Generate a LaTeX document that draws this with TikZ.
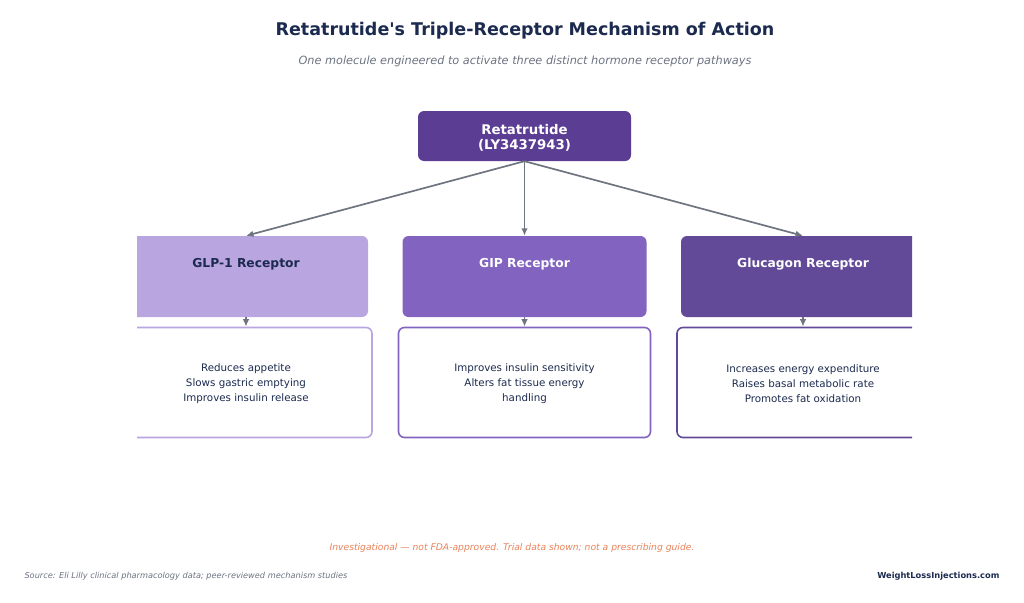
\documentclass[tikz,border=0pt]{standalone}
\usepackage{fontspec}
\setmainfont{DejaVu Sans}
\newfontfamily\plainsans{DejaVu Sans}
\usetikzlibrary{arrows.meta}
\definecolor{navy}{HTML}{1B2A4E}
\definecolor{subgray}{HTML}{6B7280}
\definecolor{linkgray}{HTML}{6F7580}
\definecolor{retafill}{HTML}{5C3D94}
\definecolor{glpfill}{HTML}{B9A5E0}
\definecolor{gipfill}{HTML}{8264C0}
\definecolor{gcgfill}{HTML}{624A99}
\definecolor{warnorange}{HTML}{E8825A}
\begin{document}
\begin{tikzpicture}[x=1pt,y=-1pt,
    recbox/.style={rounded corners=6pt, minimum width=244pt, minimum height=81pt, inner sep=0pt},
    reclabel/.style={font=\bfseries\fontsize{12.3}{14}\selectfont},
    descbox/.style={draw, line width=1.6pt, rounded corners=6pt, fill=white, minimum width=252pt,
      minimum height=110pt, inner sep=0pt},
    desctext/.style={align=center, text=navy, font=\fontsize{10.3}{15}\selectfont},
    link/.style={draw=linkgray, line width=1.7pt, -{Latex[length=7.5pt,width=6.5pt]}}]
  \useasboundingbox (0,0) rectangle (1024,602);

  % title and subtitle
  \node[font=\plainsans\bfseries\fontsize{17.5}{20}\selectfont, text=navy] (title) at (525,31)
    {Retatrutide's Triple-Receptor Mechanism of Action};
  \node[font=\itshape\fontsize{11.3}{13}\selectfont, text=subgray] (subtitle) at (525,61)
    {One molecule engineered to activate three distinct hormone receptor pathways};

  % the molecule
  \node[fill=retafill, rounded corners=6pt, minimum width=213pt, minimum height=50pt, inner sep=0pt] (reta)
    at (524.5,136) {};
  \node[text=white, align=center, font=\bfseries\fontsize{13.3}{15}\selectfont] (retalabel)
    at ([yshift=-1.5pt]reta.center) {Retatrutide\\(LY3437943)};

  % receptors and effects, cut at the sides
  \begin{scope}
    \clip (137,0) rectangle (912,602);
    \node[recbox, fill=glpfill] (glp) at (246,276.5) {};
    \node[recbox, fill=gipfill] (gip) at (524.5,276.5) {};
    \node[recbox, fill=gcgfill] (gcg) at (803,276.5) {};
    \node[descbox, draw=glpfill] (glpfx) at (246,382.5) {};
    \node[descbox, draw=gipfill] (gipfx) at (524.5,382.5) {};
    \node[descbox, draw=gcgfill] (gcgfx) at (803,382.5) {};
  \end{scope}
  \node[reclabel, text=navy] (glplabel) at ([yshift=-28.5pt]glp.north) {GLP-1 Receptor};
  \node[reclabel, text=white] (giplabel) at ([yshift=-28.5pt]gip.north) {GIP Receptor};
  \node[reclabel, text=white] (gcglabel) at ([yshift=-28.5pt]gcg.north) {Glucagon Receptor};
  \node[desctext] (glptext) at ([yshift=-1.5pt]glpfx.center)
    {Reduces appetite\\Slows gastric emptying\\Improves insulin release};
  \node[desctext] (giptext) at ([yshift=-1.5pt]gipfx.center)
    {Improves insulin sensitivity\\Alters fat tissue energy\\handling};
  \node[desctext] (gcgtext) at ([yshift=-1.5pt]gcgfx.center)
    {Increases energy expenditure\\Raises basal metabolic rate\\Promotes fat oxidation};

  % connectors
  \draw[link] (reta.south) -- (glp.north);
  \draw[link] (reta.south) -- (gip.north);
  \draw[link] (reta.south) -- (gcg.north);
  \draw[link] (glp.south) -- (glpfx.north);
  \draw[link] (gip.south) -- (gipfx.north);
  \draw[link] (gcg.south) -- (gcgfx.north);

  % footer
  \node[font=\itshape\fontsize{9.2}{11}\selectfont, text=warnorange] (warning) at (512,548)
    {Investigational — not FDA-approved. Trial data shown; not a prescribing guide.};
  \node[anchor=west, font=\itshape\fontsize{8.2}{10}\selectfont, text=subgray] (source) at (21,576)
    {Source: Eli Lilly clinical pharmacology data; peer-reviewed mechanism studies};
  \node[anchor=east, font=\bfseries\fontsize{8.3}{10}\selectfont, text=navy] (site) at (1003,576)
    {WeightLossInjections.com};
\end{tikzpicture}
\end{document}
